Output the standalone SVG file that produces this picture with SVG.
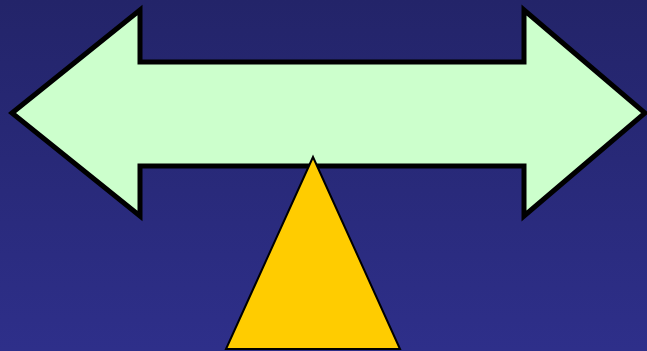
<svg xmlns="http://www.w3.org/2000/svg" width="647" height="351" viewBox="0 0 647 351">
<defs>
<linearGradient id="bg" x1="0" y1="0" x2="0" y2="1">
<stop offset="0" stop-color="#232469"/>
<stop offset="1" stop-color="#2E2F8A"/>
</linearGradient>
</defs>
<style>
.arrow{fill:#CCFFCC;stroke:#000;stroke-width:5;stroke-linejoin:miter;stroke-miterlimit:10}
.tri{fill:#FFCC00;stroke:#000;stroke-width:2;stroke-linejoin:miter}
</style>
<rect x="0" y="0" width="647" height="351" fill="url(#bg)"/>
<g id="double-arrow">
<polygon class="arrow" points="12,113 140,10 140,62 524,62 524,10 645,113 524,216 524,166 140,166 140,216"/>
</g>
<g id="triangle">
<polygon class="tri" points="313,157 400,349 226,349"/>
</g>
</svg>
